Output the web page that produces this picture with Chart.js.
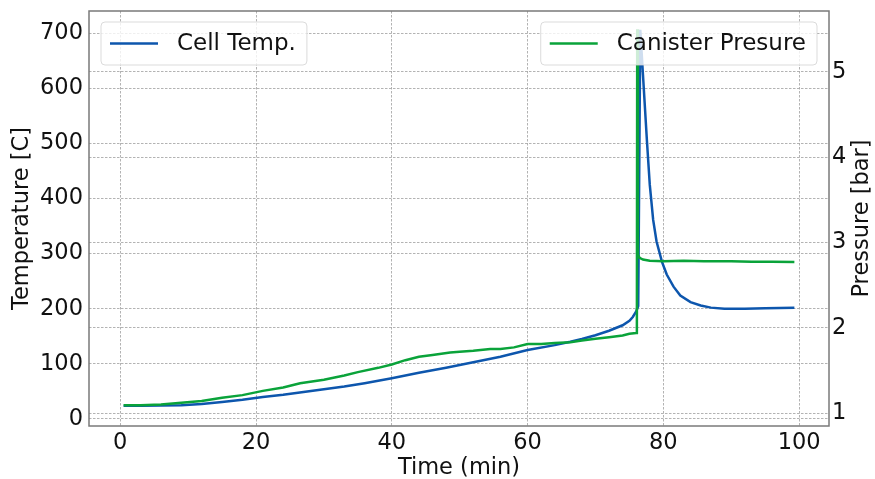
<!DOCTYPE html>
<html>
<head>
<meta charset="utf-8">
<script src="https://cdn.jsdelivr.net/npm/chart.js@4/dist/chart.umd.min.js"></script>
<style>
  html, body { margin: 0; padding: 0; background: #fff; }
  #wrap { width: 875px; height: 479px; }
</style>
</head>
<body>
<div id="wrap"><canvas id="tempChart" width="875" height="479"></canvas></div>
<script>
// values
const timeTemp = [0.5, 3, 6, 9, 12, 15, 18, 21, 24, 27, 30, 33, 36, 40, 44, 48, 52, 56, 60, 64, 66.3, 68, 70, 72, 74, 75, 75.5, 76, 76.3, 76.6, 77.0, 77.6, 78.0, 78.5, 79.0, 79.8, 80.5, 81.5, 82.5, 84, 85.5, 87, 89, 92, 95, 99.3];
const cellTemp = [24, 24, 24.5, 25, 27, 31, 35, 40, 44, 49, 54, 59, 65, 74, 84, 93, 103, 113, 125, 134, 140, 145, 152, 160, 170, 178, 185, 195, 205, 706, 624, 501, 425, 361, 322, 285, 262, 240, 224, 212, 206, 202, 200, 200, 201, 202];

const timePress = [0.5, 3, 6, 9, 12, 15, 18, 21, 24, 26.5, 30, 33, 35, 38, 40, 42, 44, 46, 48.6, 50, 52, 54.5, 56, 58, 60, 62, 64, 66.3, 68, 70, 72, 74, 75, 76.0, 76.1, 76.15, 76.25, 76.5, 77, 78, 80, 83, 86, 90, 93, 96, 99.3];
const canisterPressure = [1.09, 1.09, 1.10, 1.12, 1.14, 1.18, 1.21, 1.26, 1.30, 1.35, 1.39, 1.44, 1.48, 1.53, 1.57, 1.62, 1.66, 1.68, 1.71, 1.72, 1.73, 1.75, 1.75, 1.77, 1.81, 1.81, 1.82, 1.83, 1.85, 1.87, 1.89, 1.91, 1.93, 1.94, 1.95, 5.50, 2.86, 2.82, 2.80, 2.785, 2.78, 2.785, 2.78, 2.78, 2.775, 2.775, 2.77];

const seriesLabels = ['Cell Temp.', 'Canister Presure'];
const pressureTitle = 'Pressure [bar]';
const xTicks = [0, 20, 40, 60, 80, 100];
const tempTicks = [0, 100, 200, 300, 400, 500, 600, 700];
const pressureTicks = [1, 2, 3, 4, 5];

const FONT = '"DejaVu Sans", sans-serif';
const BLUE = '#0d56ad';
const GREEN = '#0aa33a';
const gridStyle = { color: '#a0a0a0', lineWidth: 0.8, drawTicks: false };
const gridBorder = { display: false, dash: [2.5, 1.5] }; // v4: border.dash styles the grid lines

function fixTicks(list) {
  return axis => { axis.ticks = list.map(v => ({ value: v })); };
}

// matplotlib style legend boxes, drawn over the lines
const boxLegends = {
  id: 'boxLegends',
  afterDatasetsDraw(chart) {
    const { ctx, chartArea: a } = chart;
    ctx.save();
    ctx.font = '23px ' + FONT;
    chart.data.datasets.forEach((ds, i) => {
      const tw = ctx.measureText(ds.label).width;
      const w = 9 + 48 + 19 + tw + 11;
      const h = 43;
      const x = i === 0 ? a.left + 12 : a.right - 12 - w;
      const y = a.top + 11;
      ctx.beginPath();
      ctx.roundRect(x, y, w, h, 4);
      ctx.fillStyle = 'rgba(255,255,255,0.8)';
      ctx.fill();
      ctx.strokeStyle = 'rgba(210,210,210,0.8)';
      ctx.lineWidth = 1;
      ctx.stroke();
      ctx.beginPath();
      ctx.moveTo(x + 9, y + h / 2);
      ctx.lineTo(x + 57, y + h / 2);
      ctx.strokeStyle = ds.borderColor;
      ctx.lineWidth = 2.5;
      ctx.stroke();
      ctx.fillStyle = '#111';
      ctx.textBaseline = 'middle';
      ctx.fillText(ds.label, x + 76, y + h / 2 + 1);
    });
    ctx.restore();
  },
  afterDraw(chart) {
    const { ctx, chartArea: a } = chart;
    ctx.save();
    ctx.strokeStyle = '#7a7a7a';
    ctx.lineWidth = 1.5;
    ctx.strokeRect(a.left, a.top, a.right - a.left, a.bottom - a.top);
    // right axis title reads bottom to top, like the left one
    ctx.translate(chart.width - 13, (a.top + a.bottom) / 2);
    ctx.rotate(-Math.PI / 2);
    ctx.font = '22.5px ' + FONT;
    ctx.fillStyle = '#111';
    ctx.textAlign = 'center';
    ctx.textBaseline = 'middle';
    ctx.fillText(pressureTitle, 0, 0);
    ctx.restore();
  }
};

const noPad = s => { s.paddingTop = 0; s.paddingBottom = 0; s.paddingLeft = 0; s.paddingRight = 0; };

new Chart(document.getElementById('tempChart'), {
  type: 'line',
  data: {
    datasets: [
      {
        label: seriesLabels[0],
        data: timeTemp.map((t, i) => ({ x: t, y: cellTemp[i] })),
        yAxisID: 'yTemp',
        borderColor: BLUE,
        borderWidth: 2.5,
        pointRadius: 0,
        tension: 0,
        order: 1
      },
      {
        label: seriesLabels[1],
        data: timePress.map((t, i) => ({ x: t, y: canisterPressure[i] })),
        yAxisID: 'yPress',
        borderColor: GREEN,
        borderWidth: 2.5,
        pointRadius: 0,
        tension: 0,
        order: 0
      }
    ]
  },
  options: {
    responsive: false,
    animation: false,
    layout: { padding: { top: 11 } },
    plugins: { legend: { display: false }, tooltip: { enabled: false } },
    scales: {
      x: {
        type: 'linear',
        min: -4.6,
        max: 104.4,
        afterBuildTicks: fixTicks(xTicks),
        afterFit: s => { s.height = 53; noPad(s); },
        grid: gridStyle,
        border: gridBorder,
        ticks: { color: '#111', font: { family: FONT, size: 22.5 }, padding: 4, maxRotation: 0 },
        title: { display: true, text: 'Time (min)', color: '#111', font: { family: FONT, size: 22.5 }, padding: { top: 0, bottom: -3 } }
      },
      yTemp: {
        position: 'left',
        min: -12.7,
        max: 740,
        afterBuildTicks: fixTicks(tempTicks),
        afterFit: s => { s.width = 89; noPad(s); },
        grid: gridStyle,
        border: gridBorder,
        ticks: { color: '#111', font: { family: FONT, size: 22.5 }, padding: 6 },
        title: { display: true, text: 'Temperature [C]', color: '#111', font: { family: FONT, size: 22.5 }, padding: { top: 9, bottom: 0 } }
      },
      yPress: {
        position: 'right',
        min: 0.848,
        max: 5.715,
        afterBuildTicks: fixTicks(pressureTicks),
        afterFit: s => { s.width = 46; noPad(s); },
        grid: gridStyle,
        border: gridBorder,
        ticks: { color: '#111', font: { family: FONT, size: 22.5 }, padding: 3 }
      }
    }
  },
  plugins: [boxLegends]
});
</script>
</body>
</html>
